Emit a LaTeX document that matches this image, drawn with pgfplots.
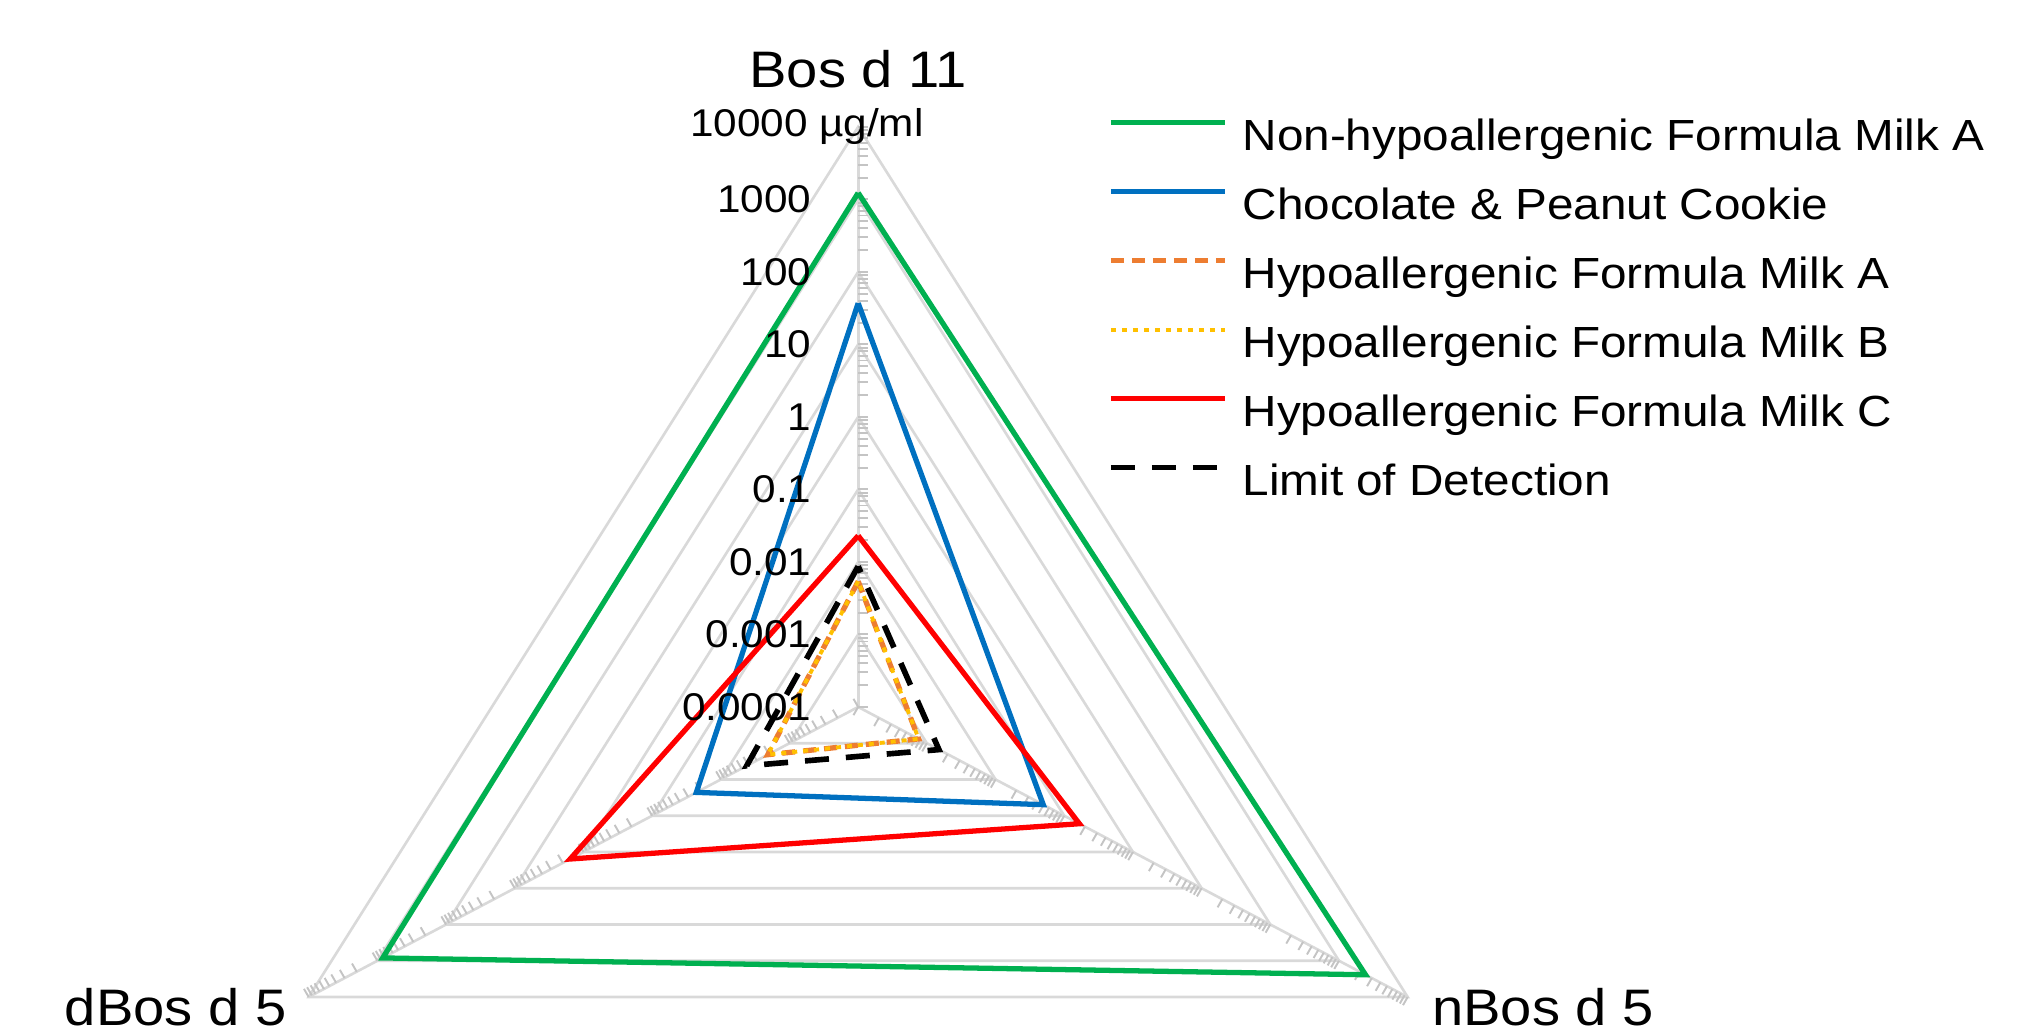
\documentclass[border=0pt]{standalone}
\usepackage{pgfplots}
\usepackage{pgfplotstable}
\pgfplotsset{compat=1.18}
\usepackage{fontspec}
\setmainfont{Liberation Sans}[FakeStretch=1.094]
\definecolor{cgreen}{HTML}{00B050}
\definecolor{cblue}{HTML}{0070C0}
\definecolor{corange}{HTML}{ED7D31}
\definecolor{cyellow}{HTML}{FFC000}
\definecolor{cred}{HTML}{FF0000}
\definecolor{cgrid}{HTML}{D9D9D9}
\definecolor{ctick}{HTML}{C4C4C4}

% angle (deg) and value (ug/ml); first row repeated to close the polygon
\pgfplotstableread{
a v
90 1230
210 835
330 2430
90 1230
}\tnonhypoA
\pgfplotstableread{
a v
90 37
210 0.0227
330 0.0495
90 37
}\tcookie
\pgfplotstableread{
a v
90 0.0054
210 0.00207
330 0.00076
90 0.0054
}\thypoA
\pgfplotstableread{
a v
90 0.0054
210 0.00207
330 0.00076
90 0.0054
}\thypoB
\pgfplotstableread{
a v
90 0.023
210 1.56
330 0.166
90 0.023
}\thypoC
\pgfplotstableread{
a v
90 0.0087
210 0.0042
330 0.0015
90 0.0087
}\tlod

\pgfplotsset{
  radar/.style={table/x expr={(log10(\thisrow{v})+4)*cos(\thisrow{a})},
                table/y expr={(log10(\thisrow{v})+4)*sin(\thisrow{a})}},
}

\begin{document}
\begin{tikzpicture}
\begin{axis}[
  x=0.793cm, y=0.725cm,
  xmin=-10.82, xmax=14.80, ymin=-4.48, ymax=9.75,
  axis lines=none, clip=false,
  every axis plot/.append style={line join=miter, mark=none},
  legend cell align=left,
  legend image code/.code={\draw[#1] (0cm,0.16cm) -- (1.14cm,0.16cm);},
  legend style={at={(axis cs:3.149,8.128)}, anchor=north west,
    draw=none, fill=none, inner sep=0pt, outer sep=0pt,
    row sep=0.27cm, column sep=0.15cm,
    font=\fontsize{12.4}{15}\selectfont,
    nodes={inner sep=0pt, text height=0.33cm, text depth=0.09cm}},
]
% grid, axes and ticks
\pgfplotsextra{
  \foreach \r in {1,...,8}{
    \pgfmathsetmacro\xx{\r*0.8660254}
    \pgfmathsetmacro\yy{-\r*0.5}
    \draw[cgrid, line width=0.75pt] (axis cs:0,\r) -- (axis cs:\xx,\yy) -- (axis cs:-\xx,\yy) -- cycle;
  }
  \foreach \a in {90,210,330}{
    \pgfmathsetmacro\xe{8*cos(\a)}
    \pgfmathsetmacro\ye{8*sin(\a)}
    \draw[cgrid, line width=0.75pt] (axis cs:0,0) -- (axis cs:\xe,\ye);
  }
  \foreach \k in {0,...,7}{
    \foreach \m in {1,...,9}{
      \pgfmathsetmacro\r{\k+log10(\m)}
      \foreach \a in {90,210,330}{
        \pgfmathsetmacro\xa{\r*cos(\a)}
        \pgfmathsetmacro\ya{\r*sin(\a)}
        \pgfmathsetmacro\xb{\xa+0.13*cos(\a-90)/1.094}
        \pgfmathsetmacro\yb{\ya+0.13*sin(\a-90)}
        \draw[ctick, line width=0.55pt] (axis cs:\xa,\ya) -- (axis cs:\xb,\yb);
      }
    }
  }
  \foreach \a in {90,210,330}{
    \pgfmathsetmacro\xa{8*cos(\a)}
    \pgfmathsetmacro\ya{8*sin(\a)}
    \pgfmathsetmacro\xb{\xa+0.13*cos(\a-90)/1.094}
    \pgfmathsetmacro\yb{\ya+0.13*sin(\a-90)}
    \draw[ctick, line width=0.55pt] (axis cs:\xa,\ya) -- (axis cs:\xb,\yb);
  }
}

\addplot[cgreen, line width=1.5pt, radar] table {\tnonhypoA};
\addlegendentry{Non-hypoallergenic Formula Milk A}
\addplot[cblue, line width=1.5pt, radar] table {\tcookie};
\addlegendentry{Chocolate \& Peanut Cookie}
\addplot[corange, line width=1.5pt, dash pattern=on 0.13cm off 0.08cm, radar] table {\thypoA};
\addlegendentry{Hypoallergenic Formula Milk A}
\addplot[cyellow, line width=1.1pt, dash pattern=on 0.05cm off 0.06cm, radar] table {\thypoB};
\addlegendentry{Hypoallergenic Formula Milk B}
\addplot[cred, line width=1.5pt, radar] table {\thypoC};
\addlegendentry{Hypoallergenic Formula Milk C}
\addplot[black, line width=1.6pt, dash pattern=on 0.24cm off 0.17cm, radar] table {\tlod};
\addlegendentry{Limit of Detection}

% value axis labels
\begin{scope}[every node/.style={font=\fontsize{11}{13}\selectfont, inner sep=0pt}]
\node[anchor=east] at (axis cs:-0.58,0) {0.0001};
\node[anchor=east] at (axis cs:-0.58,1) {0.001};
\node[anchor=east] at (axis cs:-0.58,2) {0.01};
\node[anchor=east] at (axis cs:-0.58,3) {0.1};
\node[anchor=east] at (axis cs:-0.58,4) {1};
\node[anchor=east] at (axis cs:-0.58,5) {10};
\node[anchor=east] at (axis cs:-0.58,6) {100};
\node[anchor=east] at (axis cs:-0.58,7) {1000};
\node[anchor=center] at (axis cs:-0.647,8) {10000 µg/ml};
\end{scope}
% category labels
\begin{scope}[every node/.style={font=\fontsize{14.6}{17}\selectfont, inner sep=0pt}]
\node[anchor=center] at (axis cs:0,8.79) {Bos d 11};
\node[anchor=east] at (axis cs:-7.20,-4.14) {dBos d 5};
\node[anchor=west] at (axis cs:7.23,-4.14) {nBos d 5};
\end{scope}
\coordinate (BBsw) at (axis cs:-10.82,-4.48);
\coordinate (BBne) at (axis cs:14.80,9.75);
\end{axis}
\pgfresetboundingbox
\path (BBsw) rectangle (BBne);
\end{tikzpicture}
\end{document}
